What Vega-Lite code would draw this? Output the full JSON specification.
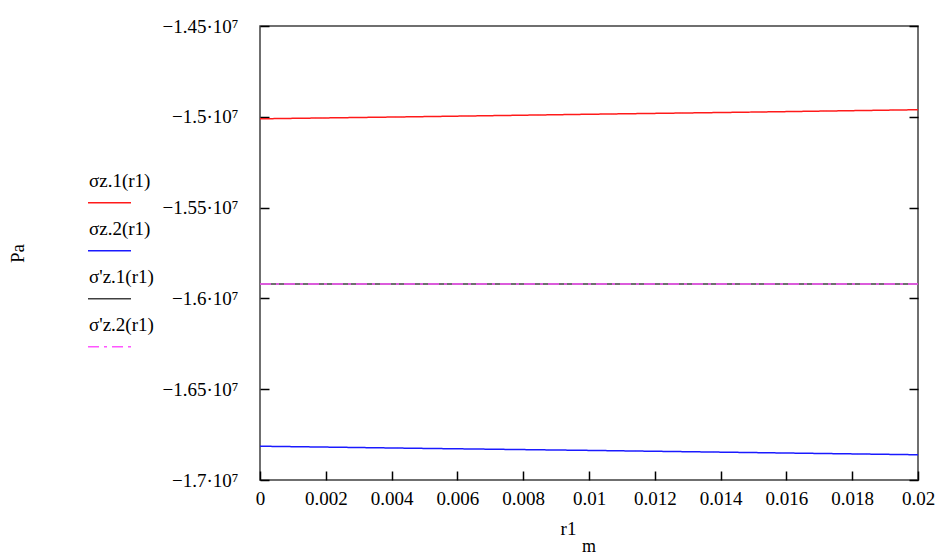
{
  "$schema": "https://vega.github.io/schema/vega-lite/v6.json",
  "width": 658,
  "height": 454,
  "autosize": {"type": "none"},
  "padding": {"left": 260, "top": 26, "right": 23, "bottom": 80},
  "background": "white",
  "title": {"text": "m", "orient": "bottom", "anchor": "middle", "font": "Liberation Serif", "fontSize": 18, "fontWeight": "normal", "color": "black", "offset": 0},
  "config": {
    "view": {"stroke": "#404040", "strokeWidth": 1.5},
    "font": "Liberation Serif"
  },
  "data": {
    "values": [
      {"r1": 0, "Pa": -15011000, "series": "σz.1(r1)"},
      {"r1": 0.005, "Pa": -14999000, "series": "σz.1(r1)"},
      {"r1": 0.01, "Pa": -14986000, "series": "σz.1(r1)"},
      {"r1": 0.015, "Pa": -14974000, "series": "σz.1(r1)"},
      {"r1": 0.02, "Pa": -14961000, "series": "σz.1(r1)"},
      {"r1": 0, "Pa": -16814000, "series": "σz.2(r1)"},
      {"r1": 0.005, "Pa": -16826000, "series": "σz.2(r1)"},
      {"r1": 0.01, "Pa": -16837000, "series": "σz.2(r1)"},
      {"r1": 0.015, "Pa": -16849000, "series": "σz.2(r1)"},
      {"r1": 0.02, "Pa": -16861000, "series": "σz.2(r1)"},
      {"r1": 0, "Pa": -15921000, "series": "σ'z.1(r1)"},
      {"r1": 0.005, "Pa": -15921000, "series": "σ'z.1(r1)"},
      {"r1": 0.01, "Pa": -15921000, "series": "σ'z.1(r1)"},
      {"r1": 0.015, "Pa": -15921000, "series": "σ'z.1(r1)"},
      {"r1": 0.02, "Pa": -15921000, "series": "σ'z.1(r1)"},
      {"r1": 0, "Pa": -15921000, "series": "σ'z.2(r1)"},
      {"r1": 0.005, "Pa": -15921000, "series": "σ'z.2(r1)"},
      {"r1": 0.01, "Pa": -15921000, "series": "σ'z.2(r1)"},
      {"r1": 0.015, "Pa": -15921000, "series": "σ'z.2(r1)"},
      {"r1": 0.02, "Pa": -15921000, "series": "σ'z.2(r1)"}
    ]
  },
  "resolve": {"axis": {"y": "independent"}},
  "layer": [
    {
      "mark": {"type": "line", "strokeWidth": 1.5},
      "encoding": {
        "x": {
          "field": "r1", "type": "quantitative",
          "scale": {"domain": [0, 0.02], "nice": false},
          "axis": {
            "values": [0, 0.002, 0.004, 0.006, 0.008, 0.01, 0.012, 0.014, 0.016, 0.018, 0.02],
            "labelExpr": "format(datum.value, '~g')",
            "grid": false, "domain": false,
            "tickSize": -9, "tickColor": "black", "tickWidth": 1.5,
            "labelPadding": 18, "labelFontSize": 19, "labelColor": "black", "labelFont": "Liberation Serif",
            "labelFlush": false, "labelOverlap": false,
            "title": "r1", "titleFont": "Liberation Serif", "titleFontSize": 19, "titleFontWeight": "normal", "titleColor": "black",
            "titleX": 308, "titlePadding": 11
          }
        },
        "y": {
          "field": "Pa", "type": "quantitative",
          "scale": {"domain": [-17000000, -14500000], "nice": false, "zero": false},
          "axis": {
            "values": [-17000000, -16500000, -16000000, -15500000, -15000000, -14500000],
            "labelExpr": "replace(format(datum.value / 10000000, '~g'), '-', '−') + '·10⁷'",
            "grid": false, "domain": false,
            "tickSize": -9, "tickColor": "black", "tickWidth": 1.5,
            "labelPadding": 31, "labelFontSize": 19, "labelColor": "black", "labelFont": "Liberation Serif",
            "labelOverlap": false, "labelFlush": false,
            "title": "Pa", "titleFont": "Liberation Serif", "titleFontSize": 19, "titleFontWeight": "normal", "titleColor": "black",
            "titleX": -233, "titleY": 227, "titleAlign": "center", "titleAngle": -90
          }
        },
        "color": {
          "field": "series", "type": "nominal",
          "scale": {"domain": ["σz.1(r1)", "σz.2(r1)", "σ'z.1(r1)", "σ'z.2(r1)"], "range": ["#ff1a1a", "#1a1aff", "#404040", "#ff55ff"]},
          "legend": {
            "title": null, "orient": "none", "legendX": -173, "legendY": 138,
            "symbolType": "M -1 0.75 L 1 0.75", "symbolSize": 1849, "symbolStrokeWidth": 1.5,
            "labelOffset": -43, "labelBaseline": "alphabetic", "labelFontSize": 19, "labelFont": "Liberation Serif", "labelColor": "black",
            "rowPadding": 6, "padding": 0, "labelLimit": 200
          }
        },
        "strokeDash": {
          "field": "series", "type": "nominal",
          "scale": {"domain": ["σz.1(r1)", "σz.2(r1)", "σ'z.1(r1)", "σ'z.2(r1)"], "range": [[1, 0], [1, 0], [1, 0], [11, 5, 3, 5]]},
          "legend": {
            "title": null, "orient": "none", "legendX": -173, "legendY": 138,
            "symbolType": "M -1 0.75 L 1 0.75", "symbolSize": 1849, "symbolStrokeWidth": 1.5,
            "labelOffset": -43, "labelBaseline": "alphabetic", "labelFontSize": 19, "labelFont": "Liberation Serif", "labelColor": "black",
            "rowPadding": 6, "padding": 0, "labelLimit": 200
          }
        }
      }
    },
    {
      "mark": {"type": "point", "opacity": 0},
      "encoding": {
        "y": {
          "field": "Pa", "type": "quantitative",
          "axis": {
            "orient": "right",
            "values": [-17000000, -16500000, -16000000, -15500000, -15000000, -14500000],
            "labels": false, "grid": false, "domain": false, "title": null,
            "tickSize": -9, "tickColor": "black", "tickWidth": 1.5
          }
        }
      }
    }
  ]
}
